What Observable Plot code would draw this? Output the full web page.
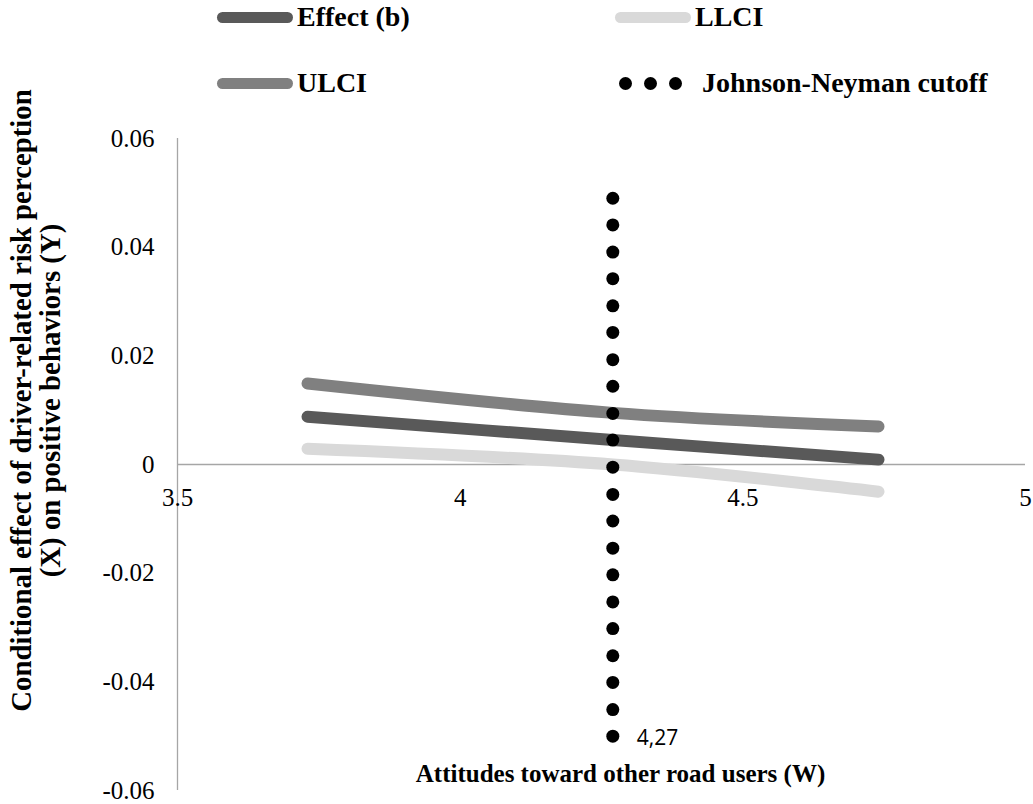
<!DOCTYPE html>
<html>
<head>
<meta charset="utf-8">
<script src="https://cdn.jsdelivr.net/npm/d3@7"></script>
<script src="https://cdn.jsdelivr.net/npm/@observablehq/plot@0.6"></script>
<style>
  html, body { margin: 0; padding: 0; background: #fff; }
  #wrap { width: 1033px; height: 804px; position: relative; overflow: hidden; }
  #legend { position: relative; z-index: 2; width: 1033px; height: 110px; font-family: "Liberation Serif", "Times New Roman", serif; font-weight: bold; font-size: 28px; color: #000; pointer-events: none; }
  #chart { position: relative; z-index: 1; }
  #chart svg { overflow: visible; }
  .item { position: absolute; display: flex; align-items: center; height: 30px; }
  .sw { width: 76px; height: 11px; border-radius: 6px; margin-right: 4px; }
  .dotsw { width: 13px; height: 13px; border-radius: 50%; background: #000; margin-right: 12px; }
</style>
</head>
<body>
<div id="wrap">
  <div id="legend"></div>
  <div id="chart"></div>
</div>
<script>
// ---- data ----
const seriesNames = ["Effect (b)", "LLCI", "ULCI"];
const seriesColors = ["#595959", "#d9d9d9", "#808080"];
const wValues = [3.73, 4.27, 4.74];
const effectValues = [0.0088, 0.0045, 0.0009];
const llciValues = [0.0029, 0.0000, -0.0050];
const ulciValues = [0.0149, 0.0095, 0.0070];
const jnCutoff = 4.27;
const jnLabel = "4,27";
const jnYValues = [-0.0500, -0.0451, -0.0401, -0.0352, -0.0302, -0.0253, -0.0203, -0.0154, -0.0104, -0.0055, -0.0005, 0.0045, 0.0094, 0.0144, 0.0193, 0.0243, 0.0292, 0.0342, 0.0391, 0.0441, 0.0490];
const xTicks = [3.5, 4, 4.5, 5];
const xTickLabels = ["3.5", "4", "4.5", "5"];
const yTicks = [-0.06, -0.04, -0.02, 0, 0.02, 0.04, 0.06];
const yTickLabels = ["-0.06", "-0.04", "-0.02", "0", "0.02", "0.04", "0.06"];
const xTitle = "Attitudes toward other road users (W)";
const yTitle = "Conditional effect of driver-related risk perception\n(X) on positive behaviors (Y)";
const jnName = "Johnson-Neyman cutoff";

// ---- build table ----
const seriesValues = [effectValues, llciValues, ulciValues];
const rows = [];
seriesNames.forEach((s, i) => wValues.forEach((w, j) => rows.push({series: s, w, v: seriesValues[i][j]})));

// ---- legend ----
const legend = document.getElementById("legend");
const legendPos = [
  {left: 217, top: 2}, {left: 615, top: 2}, {left: 217, top: 68}
];
seriesNames.forEach((s, i) => {
  const it = document.createElement("div");
  it.className = "item";
  it.style.left = legendPos[i].left + "px";
  it.style.top = legendPos[i].top + "px";
  const sw = document.createElement("div");
  sw.className = "sw";
  sw.style.background = seriesColors[i];
  it.appendChild(sw);
  const t = document.createElement("span");
  t.textContent = s;
  it.appendChild(t);
  legend.appendChild(it);
});
{
  const it = document.createElement("div");
  it.className = "item";
  it.style.left = "619px";
  it.style.top = "68px";
  for (let k = 0; k < 3; k++) {
    const d = document.createElement("div");
    d.className = "dotsw";
    it.appendChild(d);
  }
  const t = document.createElement("span");
  t.textContent = jnName;
  t.style.marginLeft = "8px";
  it.appendChild(t);
  legend.appendChild(it);
}

// ---- chart ----
const serif = "'Liberation Serif', 'Times New Roman', serif";
const chart = Plot.plot({
  width: 1033,
  height: 694,
  marginTop: 28,
  marginBottom: 14,
  marginLeft: 177,
  marginRight: 8,
  style: {fontFamily: serif, background: "transparent", color: "#000", overflow: "visible"},
  x: {domain: [3.5, 5], axis: null},
  y: {domain: [-0.06, 0.06], axis: null},
  color: {domain: seriesNames, range: seriesColors},
  marks: [
    Plot.ruleX([3.5], {y1: -0.06, y2: 0.06, stroke: "#a6a6a6", strokeWidth: 1.3}),
    Plot.ruleY([0], {x1: 3.5, x2: 5, stroke: "#a6a6a6", strokeWidth: 1.3}),
    Plot.axisY(yTicks, {
      tickSize: 0, tickPadding: 23, fontSize: 25, fontFamily: serif, fill: "#000",
      tickFormat: (d) => yTickLabels[yTicks.indexOf(d)], label: null
    }),
    Plot.text(xTicks, {x: d => d, y: () => 0, text: (d, i) => xTickLabels[i], dy: 33, fontSize: 25, fontFamily: serif, fill: "#000"}),
    Plot.line(rows, {x: "w", y: "v", z: "series", stroke: "series", strokeWidth: 12, strokeLinecap: "round", curve: "catmull-rom"}),
    Plot.dot(jnYValues, {x: () => jnCutoff, y: d => d, r: 6.5, fill: "#000", stroke: null}),
    Plot.text([jnLabel], {x: () => jnCutoff, y: () => jnYValues[0], text: d => d, textAnchor: "start", dx: 24, dy: 2, fontSize: 21, fontFamily: "'Open Sans', sans-serif", fill: "#000"}),
    Plot.text([xTitle], {frameAnchor: "bottom", dx: 620 - (177 + (1033 - 177 - 8) / 2), dy: -9, text: d => d, fontSize: 25, fontWeight: "bold", fontFamily: serif, fill: "#000"}),
    Plot.text([yTitle], {frameAnchor: "left", textAnchor: "middle", lineAnchor: "middle", dx: -141, dy: -64, rotate: -90, text: d => d, fontSize: 28.8, fontWeight: "bold", fontFamily: serif, lineHeight: 0.98, fill: "#000"})
  ]
});
document.getElementById("chart").appendChild(chart);
</script>
</body>
</html>
